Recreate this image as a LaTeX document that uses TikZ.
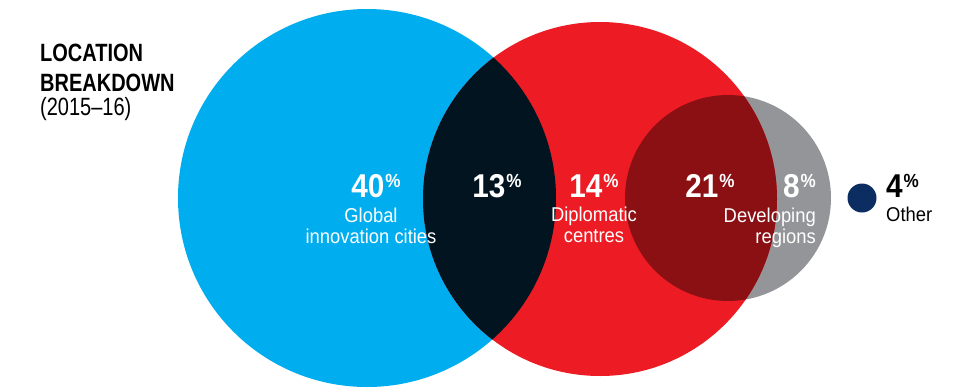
\documentclass[tikz,border=0pt]{standalone}
\usepackage{fontspec}
\setmainfont{Liberation Sans}
\newfontfamily\titlefont[FakeStretch=0.8]{Liberation Sans}
\newfontfamily\labelfont[FakeStretch=0.92]{Liberation Sans}
\newfontfamily\numfont[FakeStretch=0.9]{Liberation Sans}
\usetikzlibrary{
  positioning,
  calc
}

\definecolor{globalblue}{HTML}{00AEEF}
\definecolor{diplored}{HTML}{ED1C24}
\definecolor{overlapnavy}{HTML}{02141F}
\definecolor{devgray}{HTML}{939598}
\definecolor{overlapred}{HTML}{8B1014}
\definecolor{othernavy}{HTML}{0C2D62}

\newcommand{\pct}[1]{#1\hspace{1pt}\raisebox{10pt}{\fontsize{19}{19}\selectfont\%}}

\begin{document}
\begin{tikzpicture}[x=1pt, y=-1pt,
    num/.style = {inner sep=0, anchor=base, text=white,
                  font=\numfont\bfseries\fontsize{33}{33}\selectfont},
    lbl/.style = {inner sep=0, text=white, align=center,
                  font=\labelfont\fontsize{20}{21}\selectfont}]
    \useasboundingbox[fill=white] (0,0) rectangle (962,389);

    % circles
    \coordinate (cglobal) at (367,198);
    \coordinate (cdiplo) at (600,199);
    \coordinate (cdev) at (728,198);
    \fill[globalblue] (cglobal) circle (189);
    \fill[devgray] (cdev) circle (103);
    \fill[diplored] (cdiplo) circle (177);
    \begin{scope}
      \clip (cglobal) circle (189);
      \fill[overlapnavy] (cdiplo) circle (177);
    \end{scope}
    \begin{scope}
      \clip (cdiplo) circle (177);
      \fill[overlapred] (cdev) circle (103);
    \end{scope}
    \fill[othernavy] (862,198) circle (14.5);

    % title
    \node[inner sep=0, anchor=north west, align=left,
          font=\titlefont\fontsize{25}{30}\selectfont] (title) at (40,44)
         {\textbf{LOCATION}\\\textbf{BREAKDOWN}\\[-6pt](2015–16)};

    % shares
    \node[num] (n40) at (376,197) {\pct{40}};
    \node[lbl, below=10pt of n40, xshift=-5pt] (lglobal) {Global\\innovation cities};
    \node[num] (n13) at (497,197) {\pct{13}};
    \node[num] (n14) at (594,197) {\pct{14}};
    \node[lbl, below=10pt of n14] (ldiplo) {Diplomatic\\centres};
    \node[num] (n21) at (710,197) {\pct{21}};
    \node[num, anchor=base east] (n8) at (816,197) {\pct{8}};
    \node[lbl, align=right, anchor=north east] (ldev)
         at ([yshift=-10pt]n8.south east) {Developing\\regions};
    \node[num, anchor=base west, text=black] (n4) at (886,197) {\pct{4}};
    \node[lbl, align=left, anchor=north west, text=black] (lother)
         at ([yshift=-10pt]n4.south west) {Other};
\end{tikzpicture}
\end{document}
